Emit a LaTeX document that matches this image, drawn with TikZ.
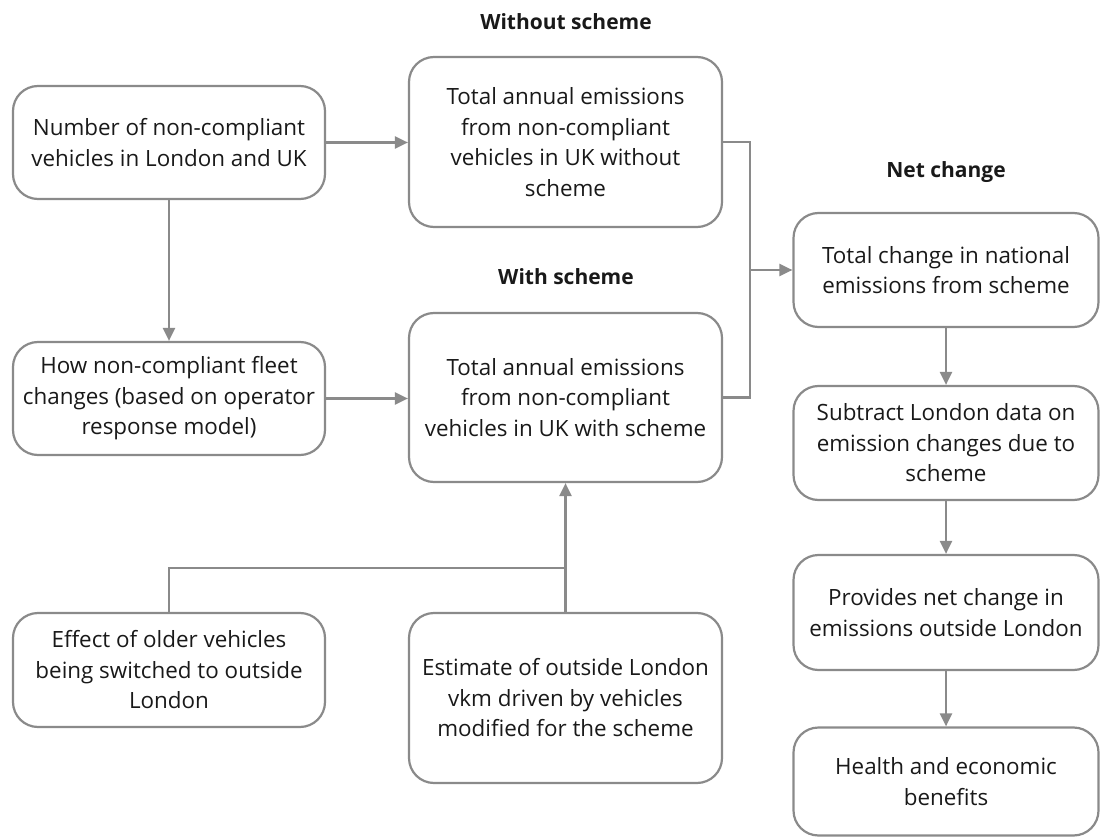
\documentclass[tikz,border=0pt]{standalone}
\usepackage{fontspec}
\setmainfont{Open Sans}
\usetikzlibrary{arrows.meta}
\definecolor{linegray}{HTML}{8A8A8A}
\begin{document}
\begin{tikzpicture}[x=1pt,y=-1pt,
  box/.style={draw=linegray, line width=2.2pt, rounded corners=25pt, align=center,
    inner sep=0pt, font=\fontsize{22.4}{30.5}\selectfont, text=black!90},
  conn/.style={draw=linegray, line width=2.2pt},
  arr/.style={conn, -{Triangle[length=13pt,width=12pt]}},
  title/.style={font=\fontsize{21}{25}\selectfont\bfseries, text=black!90}]
\useasboundingbox (0,0) rectangle (1101,837);
% titles
\node[title] (t1) at (566,22) {Without scheme};
\node[title] (t2) at (566,277) {With scheme};
\node[title] (t3) at (946,172) {Net change};
% left column
\node[box, minimum width=312pt, minimum height=113pt] (A) at (169,142.5)
  {Number of non-compliant\\vehicles in London and UK};
\node[box, minimum width=312pt, minimum height=113pt] (H) at (169,398.5)
  {How non-compliant fleet\\changes (based on operator\\response model)};
\node[box, minimum width=312pt, minimum height=114pt] (I) at (169,670)
  {Effect of older vehicles\\being switched to outside\\London};
% middle column
\node[box, minimum width=313pt, minimum height=170pt] (B) at (565.5,142)
  {Total annual emissions\\from non-compliant\\vehicles in UK without\\scheme};
\node[box, minimum width=313pt, minimum height=169pt] (C) at (565.5,397.5)
  {Total annual emissions\\from non-compliant\\vehicles in UK with scheme};
\node[box, minimum width=313pt, minimum height=170pt] (J) at (565.5,698)
  {Estimate of outside London\\vkm driven by vehicles\\modified for the scheme};
% right column
\node[box, minimum width=305pt, minimum height=114pt] (D) at (946,270)
  {Total change in national\\emissions from scheme};
\node[box, minimum width=305pt, minimum height=114pt] (E) at (946,443)
  {Subtract London data on\\emission changes due to\\scheme};
\node[box, minimum width=305pt, minimum height=115pt] (F) at (946,612.5)
  {Provides net change in\\emissions outside London};
\node[box, minimum width=305pt, minimum height=108pt] (G) at (946,781.5)
  {Health and economic\\benefits};
% connectors
\draw[arr] (A.east) -- (A.east -| B.west);
\draw[arr] (A.south) -- (H.north);
\draw[arr] (H.east) -- (H.east -| C.west);
\coordinate (j) at (750,270);
\draw[conn] (B.east) -| (j) |- (C.east);
\draw[arr] (j) -- (D.west);
\draw[arr] (J.north) -- (C.south);
\coordinate (k) at (565.5,568);
\draw[conn] (I.north) |- (k);
\draw[arr] (D.south) -- (E.north);
\draw[arr] (E.south) -- (F.north);
\draw[arr] (F.south) -- (G.north);
\end{tikzpicture}
\end{document}
